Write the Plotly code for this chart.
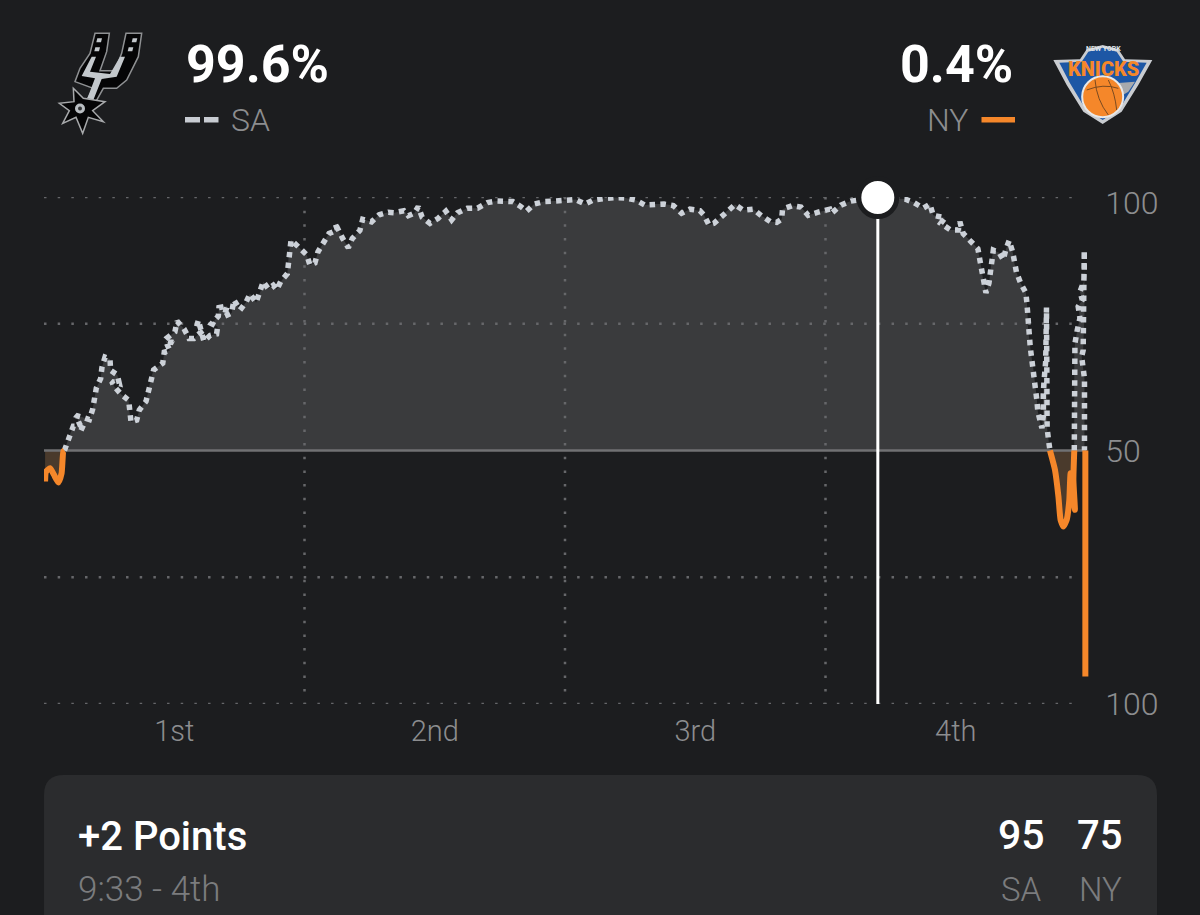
import plotly.graph_objects as go

# ---------- data: game minute and San Antonio win probability (bottom of axis = NY 100%) ----------
sa_minutes = [0.94,1.17,1.35,1.58,1.89,1.66,1.47,1.81,2.09,2.24,2.32,2.41,2.61,2.67,2.81,3.04,3.07,3.38,3.47,3.12,3.22,3.55,3.90,3.93,4.01,4.27,4.39,4.70,4.81,4.90,5.05,5.47,5.54,5.80,5.60,5.96,5.70,6.03,6.13,6.45,6.68,6.91,7.22,7.03,7.11,7.37,7.65,7.95,8.00,7.72,8.03,8.06,8.44,8.29,8.64,8.75,9.03,9.30,9.49,9.77,9.95,10.10,10.33,10.56,10.72,10.90,11.21,11.25,11.29,11.38,11.59,11.90,12.10,12.25,12.48,12.62,12.87,13.13,
13.52,13.40,13.76,14.02,14.20,14.55,14.68,15.09,15.44,15.86,16.14,16.58,16.78,17.06,17.24,17.42,17.78,18.16,18.51,18.78,19.05,19.50,19.97,20.43,20.85,21.34,21.59,21.97,22.23,22.58,23.04,23.49,24.00,24.49,24.92,25.30,25.81,26.30,26.79,27.25,27.68,
28.14,28.56,28.99,29.37,29.75,30.21,30.41,30.63,30.86,31.13,31.47,31.83,32.21,32.67,33.05,33.47,33.75,33.98,34.02,34.47,34.87,35.20,35.66,36.20,36.28,36.71,37.17,38.41,39.66,40.07,40.50,40.81,40.96,41.50,41.31,41.76,42.11,42.19,42.34,42.68,43.02,43.11,
43.20,43.27,43.39,43.53,43.59,43.65,43.73,44.00,44.19,44.31,44.46,44.62,44.69,44.80,44.99,45.23,45.28,45.31,45.32,45.37,45.43,45.49,45.57,45.63,45.69,45.74,45.78,45.88,45.97,46.03,46.01,46.03,46.06,46.12,46.14,46.15,46.15,46.17,46.18,46.18,46.20,46.20,46.21,46.21,46.21,46.27,46.34,
None,
47.46,47.46,47.46,47.46,47.46,47.49,47.60,47.72,47.64,47.83,47.72,47.90,47.92,47.92,47.92,47.93,47.87,47.80,47.93,47.93,47.93,47.93,47.93,47.93]
sa_values = [50.0,52.9,54.8,54.8,54.2,55.0,56.9,56.5,56.1,58.1,60.2,62.3,64.2,66.4,68.4,68.0,65.8,64.9,63.2,63.6,62.7,61.1,59.9,57.8,55.6,56.0,58.0,59.7,61.8,63.9,65.9,67.2,69.4,69.7,71.6,71.3,72.3,73.4,75.5,74.0,72.1,72.1,73.3,74.4,75.7,71.5,72.7,73.0,74.4,75.0,76.5,78.2,78.5,76.4,77.1,79.7,77.7,79.2,80.9,79.2,81.1,83.3,81.9,82.6,81.7,83.3,84.9,87.2,89.4,91.5,90.7,89.4,88.6,86.6,87.0,89.2,91.0,92.8,
93.5,94.9,91.8,90.0,91.8,93.4,95.6,95.1,96.5,97.0,96.9,97.3,96.3,96.8,98.1,96.0,94.8,95.8,97.2,95.5,96.9,97.8,97.8,98.9,99.2,99.2,99.1,98.1,97.2,98.6,99.1,99.2,99.3,99.5,98.6,99.4,99.7,99.9,99.8,99.4,98.4,
98.6,98.6,98.3,96.8,97.6,97.3,96.4,94.5,94.8,95.8,97.3,98.5,97.4,97.6,96.3,95.1,95.0,95.6,97.6,98.3,98.0,96.4,97.0,97.6,96.8,98.4,99.2,99.9,99.6,98.9,97.8,98.6,96.4,95.9,94.8,93.5,93.5,95.1,92.8,91.3,89.8,87.6,
85.5,83.3,81.1,83.0,85.2,87.4,89.5,89.0,87.6,89.7,91.4,89.2,87.2,85.1,83.0,81.1,79.0,76.9,74.7,72.6,70.5,68.4,66.2,64.1,61.9,59.8,57.7,55.5,54.4,56.7,59.0,61.1,63.3,65.2,67.4,69.5,71.7,73.8,76.1,78.2,73.8,67.5,62.9,58.6,54.4,52.2,50.0,
None,
50.0,56.0,60.3,64.6,68.8,71.1,73.8,76.1,78.4,79.7,81.3,83.3,85.5,87.6,89.5,77.1,69.8,68.5,64.2,60.0,55.5,51.1,50.0,50.0]

ny_minutes = [0.05,0.09,0.28,0.46,0.66,0.81,0.89,0.94,None,
              46.34,46.57,46.73,46.83,46.96,47.11,47.23,47.29,47.49,47.42,47.46,None,
              47.97,47.97]
ny_values = [43.9,45.8,46.5,45.2,43.7,45.5,49.8,50.0,None,
             50.0,46.2,40.9,36.3,35.0,36.3,40.2,45.5,38.3,44.2,50.0,None,
             50.0,5.4]

current_minute = 38.41
current_value = 99.9
game_start = 0
game_end = 48
axis_end = 48.5
grid_end = 47.77
midline = 50
quarter_edges = [12, 24, 36]
grid_levels = [100, 75, 25, 0]
quarter_centres = [6, 18, 30, 42]
quarter_labels = ["1st", "2nd", "3rd", "4th"]
y_ticks = [0, 50, 98.8]
y_labels = ["100", "50", "100"]

BG = "#1c1d1f"
PANEL = "#2b2c2e"
FILL_SA = "#3a3b3d"
FILL_NY = "#4a3a2c"
SILVER = "#ccd1d8"
ORANGE = "#f5872a"
GRID = "#66676a"
MUTED = "#8c8d8f"
FONT = "Roboto"
W, H = 1200, 915

fig = go.Figure()

fig.add_trace(go.Scatter(x=sa_minutes, y=sa_values, mode="none", fill="toself", fillcolor=FILL_SA, hoverinfo="skip"))
fig.add_trace(go.Scatter(x=[ny_minutes[0]] + ny_minutes, y=[midline] + ny_values, mode="none", fill="toself",
                         fillcolor=FILL_NY, hoverinfo="skip"))
for level in grid_levels:
    fig.add_trace(go.Scatter(x=[game_start, grid_end], y=[level, level], mode="lines", cliponaxis=False,
                             line=dict(color=GRID, width=2.5, dash="2.5px,11.17px"), hoverinfo="skip"))
for edge in quarter_edges:
    fig.add_trace(go.Scatter(x=[edge, edge], y=[100, 0], mode="lines", cliponaxis=False,
                             line=dict(color=GRID, width=2.5, dash="2.5px,11.17px"), hoverinfo="skip"))
fig.add_trace(go.Scatter(x=[game_start, game_end], y=[midline, midline], mode="lines",
                         line=dict(color="#707173", width=2.5), hoverinfo="skip"))
fig.add_trace(go.Scatter(x=sa_minutes, y=sa_values, mode="lines", cliponaxis=False,
                         line=dict(color=SILVER, width=5.5, dash="5.5px,5.3px"), hoverinfo="skip"))
fig.add_trace(go.Scatter(x=ny_minutes, y=ny_values, mode="lines", cliponaxis=False,
                         line=dict(color=ORANGE, width=6, shape="spline", smoothing=0.5), hoverinfo="skip"))
fig.add_trace(go.Scatter(x=[current_minute, current_minute], y=[current_value, 0], mode="lines", cliponaxis=False,
                         line=dict(color="#ffffff", width=3), hoverinfo="skip"))
fig.add_trace(go.Scatter(x=[current_minute], y=[current_value], mode="markers", cliponaxis=False,
                         marker=dict(color="#ffffff", size=38, line=dict(color=BG, width=5)), hoverinfo="skip"))


def px(x):
    return x / W


def py(y):
    return 1 - y / H


def path(points, scale=3.0, dx=0.0, dy=0.0):
    """Closed SVG path for a logo outline given in picture coordinates."""
    out = []
    for i, (a, b) in enumerate(points):
        out.append(f"{'M' if i == 0 else 'L'} {px(dx + a / scale):.5f} {py(dy + b / scale):.5f}")
    return " ".join(out) + " Z"


shapes = []


def poly(points, fill, line=None, width=0, dx=0.0, dy=0.0):
    shapes.append(dict(type="path", xref="paper", yref="paper", path=path(points, dx=dx, dy=dy),
                       fillcolor=fill, line=dict(color=line or fill, width=width), layer="above"))


def rect(x0, y0, x1, y1, fill):
    shapes.append(dict(type="rect", xref="paper", yref="paper", x0=px(x0), x1=px(x1), y0=py(y0), y1=py(y1),
                       fillcolor=fill, line=dict(width=0), layer="above"))


def circle(cx, cy, r, fill, line=None, width=0):
    shapes.append(dict(type="circle", xref="paper", yref="paper", x0=px(cx - r), x1=px(cx + r),
                       y0=py(cy + r), y1=py(cy - r), fillcolor=fill,
                       line=dict(color=line or fill, width=width), layer="above"))


# ----- Spurs logo -----
poly([(285,100),(328,100),(320,155),(300,212),(345,212),(365,160),(378,100),(425,100),(415,170),(380,240),(350,265),
      (310,265),(280,318),(255,310),(280,265),(225,245),(240,205),(270,160)], "#050506", line="#8f9193", width=1.5)
poly([(275,170),(288,170),(270,215),(330,222),(360,170),(375,170),(350,230),(305,237),(280,300),(262,295),(285,235),(245,228)],
     "#c3c8cc")
for a, b in [(292,115),(286,142),(398,115),(386,142)]:
    poly([(a,b),(a+14,b),(a+11,b+12),(a-3,b+12)], "#c3c8cc")
poly([(220,265),(250,295),(315,305),(278,332),(310,365),(265,352),(248,400),(228,352),(188,370),(208,332),(178,310),(222,305)],
     "#050506", line="#a7a9ab", width=1.5)
circle(80, 108.5, 5, "#b9bec2")
circle(80, 108.5, 2, "#333436")

# ----- Knicks logo -----
KX = 800
poly([(760,180),(840,178),(860,148),(908,135),(955,148),(975,178),(1057,180),(1015,255),(965,335),(908,372),(850,335),(800,255)],
     "#c9ccd0", dx=KX)
poly([(778,188),(845,185),(865,155),(908,143),(950,155),(970,185),(1040,188),(1005,250),(960,325),(908,360),(855,325),(810,250)],
     "#1d57a5", dx=KX)
poly([(945,250),(1005,245),(985,275),(960,290)], "#a8aaad", dx=KX)
circle(KX + 908 / 3, 290 / 3, 20.5, ORANGE, line="#e8e8e8", width=2)
shapes.append(dict(type="path", xref="paper", yref="paper", layer="above", line=dict(color="#7a4a20", width=1),
                   path=f"M {px(KX+860/3):.5f} {py(270/3):.5f} Q {px(KX+910/3):.5f} {py(250/3):.5f} {px(KX+955/3):.5f} {py(265/3):.5f} "
                        f"M {px(KX+885/3):.5f} {py(240/3):.5f} Q {px(KX+890/3):.5f} {py(300/3):.5f} {px(KX+925/3):.5f} {py(345/3):.5f} "
                        f"M {px(KX+925/3):.5f} {py(240/3):.5f} Q {px(KX+945/3):.5f} {py(280/3):.5f} {px(KX+950/3):.5f} {py(330/3):.5f}"))

# ----- legend swatches -----
rect(185, 117, 200, 122.5, "#c8ccd2")
rect(204, 117, 218.5, 122.5, "#c8ccd2")
rect(981.5, 117, 1015, 122.5, ORANGE)

# ----- play card -----
r = 20
shapes.append(dict(type="path", xref="paper", yref="paper", layer="below", fillcolor=PANEL, line=dict(width=0),
                   path=f"M {px(44):.5f} {py(915):.5f} L {px(44):.5f} {py(775+r):.5f} Q {px(44):.5f} {py(775):.5f} {px(44+r):.5f} {py(775):.5f} "
                        f"L {px(1157-r):.5f} {py(775):.5f} Q {px(1157):.5f} {py(775):.5f} {px(1157):.5f} {py(775+r):.5f} "
                        f"L {px(1157):.5f} {py(915):.5f} Z"))


def label(text, x, y, size, color, anchor="left", weight=400, family=FONT, **kw):
    return dict(text=text, x=px(x), y=py(y), xref="paper", yref="paper", xanchor=anchor, yanchor="middle",
                showarrow=False, font=dict(family=family, size=size, color=color, weight=weight),
                borderpad=0, **kw)


annotations = [
    label("99.6%", 185, 65, 52, "#ffffff", weight=700),
    label("SA", 230, 120, 32, MUTED, weight=300),
    label("0.4%", 1014, 65, 52, "#ffffff", anchor="right", weight=700),
    label("NY", 969, 120, 32, MUTED, anchor="right", weight=300),
    label("+2 Points", 77, 836, 40, "#ffffff", weight=500),
    label("9:33 - 4th", 77, 889, 35, "#7b7c7e", weight=300),
    label("95", 1046, 835, 41, "#ffffff", anchor="right", weight=500),
    label("75", 1123, 835, 40, "#ffffff", anchor="right", weight=500),
    label("SA", 1043, 889, 33, "#7b7c7e", anchor="right", weight=300),
    label("NY", 1123, 889, 33, "#7b7c7e", anchor="right", weight=300),
    label("KNICKS", 1103, 69, 20, ORANGE, anchor="center", weight=900),
    label("NEW YORK", 1103, 49, 7, "#dfe3e8", anchor="center", weight=700),
]

fig.update_layout(
    width=W, height=H, autosize=False, margin=dict(l=0, r=0, t=0, b=0, pad=0, autoexpand=False),
    paper_bgcolor=BG, plot_bgcolor=BG, showlegend=False, hovermode=False,
    shapes=shapes, annotations=annotations,
    xaxis=dict(domain=[44 / W, (1086 + 0.5 * 21.71) / W], range=[game_start, axis_end], showgrid=False, zeroline=False,
               showline=False, tickmode="array", tickvals=quarter_centres, ticktext=quarter_labels,
               ticks="outside", ticklen=1, tickcolor="rgba(0,0,0,0)",
               tickfont=dict(family=FONT, size=29, color=MUTED, weight=300)),
    yaxis=dict(domain=[1 - 704 / H, 1 - 197 / H], range=[0, 100], side="right", anchor="x", zeroline=False,
               showline=False, showgrid=False,
               tickmode="array", tickvals=y_ticks, ticktext=y_labels,
               ticks="outside", ticklen=1, tickcolor="rgba(0,0,0,0)",
               tickfont=dict(family=FONT, size=32, color=MUTED, weight=300)),
)

fig.write_html("out.html", config=dict(displayModeBar=False),
               post_script="document.body.style.margin='0';document.body.style.background='#1c1d1f';document.body.style.overflow='hidden';")
